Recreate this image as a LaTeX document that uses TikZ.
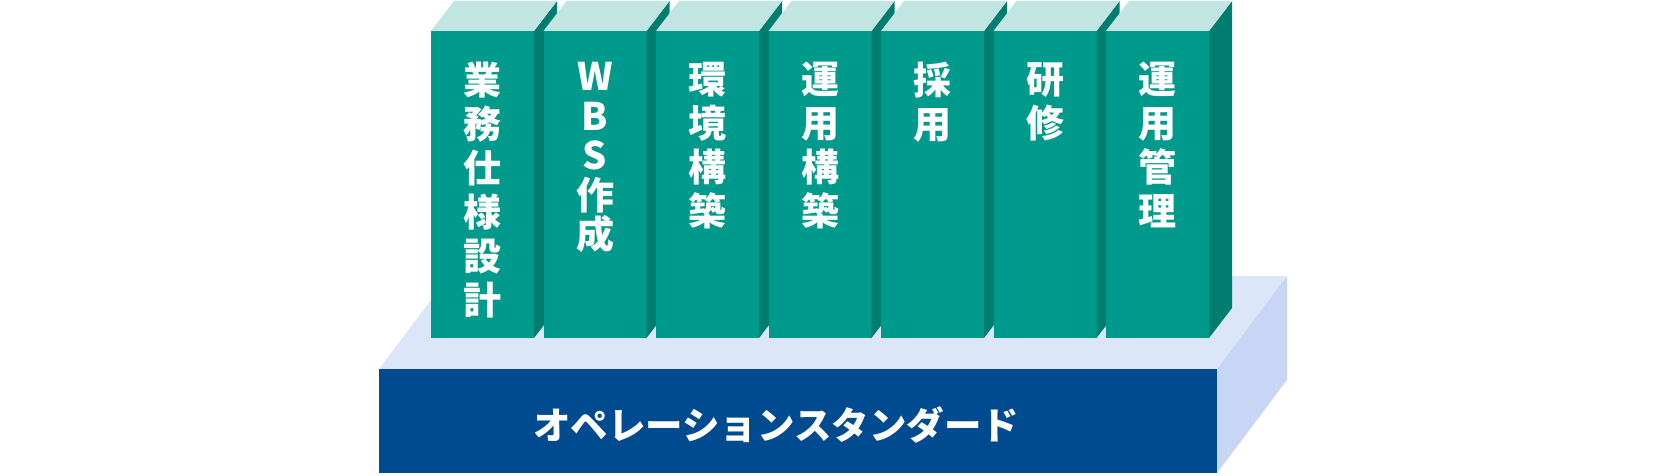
\documentclass[tikz,border=0pt]{standalone}
\usepackage{fontspec}
\newfontfamily\jp{Noto Sans CJK JP}
\definecolor{spinefront}{HTML}{009A8D}
\definecolor{spineside}{HTML}{007D70}
\definecolor{spinetop}{HTML}{C1E6E2}
\definecolor{basefront}{HTML}{004A8F}
\definecolor{basetop}{HTML}{DCE6F9}
\definecolor{baseside}{HTML}{C6D6F4}

\begin{document}
\begin{tikzpicture}
				[x=1pt,y=-1pt,every node/.style={text=white,inner sep=0pt}, title/.style={align=center,anchor=north,font=\jp\bfseries\fontsize{38}{44}\selectfont}, caption/.style={font=\jp\bfseries\fontsize{37.5}{37.5}\selectfont}]
				\useasboundingbox (0,0) rectangle (1664,476);
				\fill[basetop] (379,369) -- (449,276) -- (1287,276) -- (1217,369) -- cycle;
				\fill[baseside] (1217,369) -- (1287,276) -- (1287,380) -- (1217,473) -- cycle;
				\fill[basefront] (379,369) rectangle (1217,473);
				\node[caption] (std) at (776,425) {オペレーションスタンダード};
				
				\foreach \lbl [count=\i from 0] in {{業\\務\\仕\\様\\設\\計},{W\\[-4.5pt]B\\[-4.5pt]S\\[-4.5pt]作\\[-4.5pt]成},{環\\境\\構\\築},{運\\用\\構\\築},{採\\用},{研\\修},{運\\用\\管\\理}} {
					\pgfmathsetmacro\xl{431+112.5*\i}
					\fill[spinefront] (\xl,31) rectangle ++(103,307);
					\fill[spineside] (\xl+103,31) -- ++(23,-30) -- ++(0,307) -- ++(-23,30) -- cycle;
					\fill[spinetop] (\xl,31) -- ++(23,-30) -- ++(103,0) -- ++(-23,30) -- cycle;
					\node[title] (b\i) at (\xl+51.5,62) {\lbl};
				}
				\end{tikzpicture}
\end{document}
